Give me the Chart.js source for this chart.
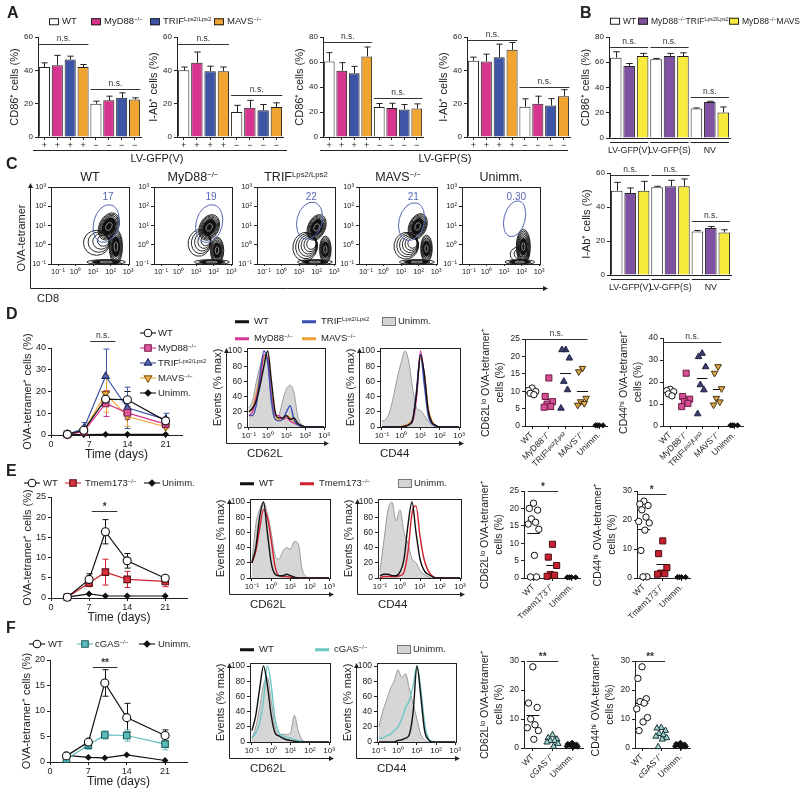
<!DOCTYPE html>
<html>
<head>
<meta charset="utf-8">
<title>Figure</title>
<script src="https://cdn.jsdelivr.net/npm/chart.js@4/dist/chart.umd.min.js"></script>
<style>
  body { margin: 0; width: 800px; height: 794px; position: relative; overflow: hidden; background: #fff;
         font-family: "Liberation Sans", Arial, sans-serif; color: #222; }
  canvas { position: absolute; left: 0; top: 0; }
  .t { position: absolute; white-space: nowrap; line-height: 1; font-size: 9.5px; transform: translateY(-50%); }
  .c { transform: translate(-50%, -50%); }
  .v { transform: translate(-50%, -50%) rotate(-90deg); }
  .L { font-weight: bold; font-size: 16px; transform: none; }
  sup { font-size: 0.62em; vertical-align: 0.55em; line-height: 0; }
  .sw { display: inline-block; width: 8px; height: 5px; border: 1px solid #222; margin-right: 3px; vertical-align: middle; }
  .gb { display: inline-block; width: 12px; height: 7px; border: 1px solid #777; background: #d4d4d4; margin-right: 2px; vertical-align: middle; }
  .ln { display: inline-block; width: 14px; height: 3px; margin-right: 5px; vertical-align: middle; }
  .rule { position: absolute; height: 0; border-top: 1px solid #222; }
</style>
</head>
<body>
<script>
const FONT = '"Liberation Sans", Arial, sans-serif';
Chart.defaults.font.family = FONT;
Chart.defaults.font.size = 8;
Chart.defaults.color = '#222';
Chart.defaults.animation = false;
Chart.defaults.events = [];
Chart.defaults.plugins.legend.display = false;
Chart.defaults.plugins.tooltip.enabled = false;

const W = 800, H = 794;
const SUP = { '-1': '⁻¹', '0': '⁰', '1': '¹', '2': '²', '3': '³' };
const pow10 = v => '10' + SUP[v];
const rng = (a, b, s) => { const r = []; for (let v = a; v <= b + 1e-9; v += s) r.push(+v.toFixed(4)); return r; };

// ---------------- A: DC activation, LV-GFP(V) / LV-GFP(S) ----------------
const lvTicks = ['+', '+', '+', '+', '−', '−', '−', '−'];
const colA = ['#ffffff', '#d6368e', '#3e55a5', '#f0a532'];
const cd86V = [42, 43, 46.5, 42, 20, 22, 23.5, 22.5];
const cd86VErr = [2.5, 6, 2, 1.5, 1.5, 2.5, 3, 1];
const iabV = [40, 44.5, 39.5, 39.5, 15, 17.5, 16, 18];
const iabVErr = [2, 6.5, 3, 2.5, 4, 4.5, 3.5, 2.5];
const cd86S = [60.5, 53, 51, 64.5, 24, 23.3, 22, 22.8];
const cd86SErr = [7, 6.5, 5.5, 7.5, 2.8, 3.7, 4, 3.7];
const iabS = [45.7, 45.3, 47.9, 52.3, 18.1, 19.9, 18.9, 24.5];
const iabSErr = [2.2, 4.4, 7.8, 4.4, 4.8, 4.6, 4.1, 3.9];

// ---------------- B: double knockouts ----------------
const bLabels = ['WT', 'DKO-TRIF', 'DKO-MAVS', 'WT', 'DKO-TRIF', 'DKO-MAVS', 'WT', 'DKO-TRIF', 'DKO-MAVS'];
const colB = ['#ffffff', '#7e52a0', '#f8ea3c'];
const bGroups = ['LV-GFP(V)', 'LV-GFP(S)', 'NV'];
const cd86B = [63.6, 57, 64.9, 62.3, 64.9, 64.9, 23.3, 28.6, 20.1];
const cd86BErr = [4.7, 2, 2.1, 0.7, 2.1, 2.6, 0.5, 0.5, 4.5];
const iabB = [49.6, 48.2, 49.6, 51.6, 52.2, 52.2, 25.6, 27.6, 25];
const iabBErr = [4.9, 3, 5.5, 0.6, 3.5, 4.3, 0.6, 0.9, 1.6];

// ---------------- C: OVA-tetramer vs CD8 contour plots ----------------
const cTitles = ['WT', 'MyD88<sup>−/−</sup>', 'TRIF<sup>Lps2/Lps2</sup>', 'MAVS<sup>−/−</sup>', 'Unimm.'];
const gatePct = ['17', '19', '22', '21', '0.30'];
// gate ellipses, log10 units: [cx, cy, rx, ry]
const gates = [[1.75, 1.1, 0.72, 1.0], [1.75, 1.1, 0.75, 1.0], [1.6, 1.25, 0.72, 0.98], [1.6, 1.2, 0.72, 1.0], [1.6, 1.35, 0.6, 0.95]];
// density blobs, log10 units: [cx, cy, rx, ry, tilt, rings, core, driftX, driftY]
const blobs = [
  [[1.2, 0.1, 0.75, 0.65, 0, 4, 0, 0.9, 0.3], [1.9, 0.95, 0.55, 0.75, 0.45, 8, 0.65, 0, 0], [2.3, -0.1, 0.38, 0.9, 0, 7, 0.6, 0, 0], [1.75, -0.9, 1.1, 0.13, 0, 3, 0.7, 0, 0]],
  [[1.2, 0.1, 0.65, 0.7, 0.2, 5, 0, 0.9, 0.3], [1.75, 0.9, 0.55, 0.7, 0.45, 8, 0.65, 0, 0], [2.2, -0.3, 0.38, 0.7, 0, 7, 0.6, 0, 0], [1.9, -0.9, 1.0, 0.13, 0, 3, 0.7, 0, 0]],
  [[1.35, -0.1, 0.7, 0.75, 0.2, 6, 0, 0.8, 0.3], [2.0, 0.9, 0.5, 0.7, 0.4, 8, 0.65, 0, 0], [2.5, -0.25, 0.33, 0.7, 0, 7, 0.6, 0, 0], [1.9, -0.9, 1.0, 0.13, 0, 3, 0.7, 0, 0]],
  [[1.3, -0.05, 0.7, 0.7, 0.2, 6, 0, 0.8, 0.3], [1.95, 0.95, 0.5, 0.7, 0.4, 8, 0.65, 0, 0], [2.45, -0.2, 0.33, 0.7, 0, 7, 0.6, 0, 0], [1.9, -0.9, 1.0, 0.13, 0, 3, 0.7, 0, 0]],
  [[1.9, -0.5, 0.55, 0.4, 0, 3, 0, 0.6, 0.3], [2.1, -0.1, 0.4, 0.9, 0, 8, 0.5, 0, 0], [1.9, -0.9, 0.85, 0.13, 0, 3, 0.7, 0, 0]]
];

// ---------------- D/E/F: time courses ----------------
const daysD = [3, 6, 10, 14, 21];
const daysEF = [3, 7, 10, 14, 21];
const dWT = [0.3, 2.2, 16.5, 16.2, 6.5],   dWTe = [0.2, 1.0, 3.0, 3.8, 1.5];
const dMy = [0.3, 1.5, 14.5, 10.2, 5.0],   dMye = [0.2, 0.6, 6.0, 3.0, 1.2];
const dTR = [0.3, 3.0, 27.0, 12.5, 7.2],   dTRe = [0.2, 2.7, 12.5, 9.5, 2.8];
const dMA = [0.2, 1.8, 19.0, 8.5, 3.8],    dMAe = [0.2, 0.8, 8.5, 4.5, 1.0];
const dUn = [0.2, 0.2, 0.3, 0.3, 0.3];
const eWT = [0.2, 4.6, 16.4, 9.2, 4.9],    eWTe = [0.2, 1.4, 3.0, 1.8, 0.6];
const eTm = [0.2, 3.7, 6.4, 4.6, 4.1],     eTme = [0.1, 0.9, 3.2, 2.0, 1.3];
const eUn = [0.2, 1.0, 0.5, 0.5, 0.5];
const fWT = [1.2, 3.9, 15.5, 8.7, 5.2],    fWTe = [0.3, 0.4, 2.6, 2.8, 1.1];
const fCg = [0.6, 3.3, 5.3, 5.2, 3.5],     fCge = [0.4, 0.8, 0.8, 1.1, 1.1];
const fUn = [1.3, 0.9, 0.8, 1.4, 0.3];

// ---------------- histograms (% max), x = log10 fluorescence ----------------
const histX = [-1, -0.8, -0.6, -0.4, -0.2, 0, 0.2, 0.4, 0.6, 0.8, 1, 1.2, 1.4, 1.6, 1.8, 2, 2.2, 2.4, 2.6, 2.8, 3];
const hD62 = {
  gray: [25, 35, 60, 80, 95, 88, 30, 10, 15, 35, 50, 55, 45, 15, 3, 0, 0, 0, 0, 0, 0],
  wt:   [20, 25, 35, 55, 80, 100, 60, 20, 12, 12, 15, 10, 12, 5, 2, 0, 0, 0, 0, 0, 0],
  my:   [15, 20, 40, 60, 95, 90, 40, 15, 15, 10, 12, 8, 5, 3, 1, 0, 0, 0, 0, 0, 0],
  tr:   [15, 15, 30, 70, 100, 85, 35, 10, 8, 10, 20, 28, 10, 3, 1, 0, 0, 0, 0, 0, 0],
  ma:   [20, 25, 45, 70, 90, 95, 45, 15, 10, 12, 15, 12, 8, 3, 1, 0, 0, 0, 0, 0, 0]
};
const hD44 = {
  gray: [8, 10, 20, 40, 65, 85, 100, 85, 50, 25, 22, 15, 8, 3, 1, 0, 0, 0, 0, 0, 0],
  wt:   [0, 0, 0, 0, 0, 0, 1, 3, 10, 45, 95, 70, 22, 6, 2, 0, 0, 0, 0, 0, 0],
  my:   [0, 0, 0, 0, 0, 0, 1, 3, 8, 40, 100, 65, 20, 5, 1, 0, 0, 0, 0, 0, 0],
  tr:   [0, 0, 0, 0, 0, 0, 1, 3, 10, 50, 95, 55, 15, 4, 1, 0, 0, 0, 0, 0, 0],
  ma:   [0, 0, 0, 0, 0, 1, 2, 5, 12, 45, 90, 70, 25, 8, 2, 0, 0, 0, 0, 0, 0]
};
const hE62 = {
  gray: [20, 70, 90, 100, 85, 60, 30, 25, 35, 40, 38, 48, 45, 12, 2, 0, 0, 0, 0, 0, 0],
  wt:   [20, 40, 80, 100, 60, 20, 5, 3, 3, 5, 3, 1, 0, 0, 0, 0, 0, 0, 0, 0, 0],
  tm:   [20, 35, 65, 90, 80, 50, 15, 3, 2, 2, 1, 0, 0, 0, 0, 0, 0, 0, 0, 0, 0]
};
const hE44 = {
  gray: [10, 50, 90, 100, 75, 90, 60, 45, 25, 20, 10, 5, 2, 0, 0, 0, 0, 0, 0, 0, 0],
  wt:   [3, 5, 5, 3, 3, 8, 25, 70, 100, 60, 25, 10, 5, 2, 0, 0, 0, 0, 0, 0, 0],
  tm:   [0, 2, 2, 2, 2, 3, 8, 35, 85, 95, 55, 25, 10, 3, 0, 0, 0, 0, 0, 0, 0]
};
const hF62 = {
  gray: [5, 20, 45, 75, 85, 55, 20, 12, 10, 10, 12, 35, 15, 3, 0, 0, 0, 0, 0, 0, 0],
  wt:   [15, 35, 70, 100, 75, 35, 12, 8, 5, 3, 2, 1, 0, 0, 0, 0, 0, 0, 0, 0, 0],
  cg:   [5, 12, 25, 55, 100, 75, 30, 12, 8, 6, 5, 3, 2, 1, 0, 0, 0, 0, 0, 0, 0]
};
const hF44 = {
  gray: [20, 40, 55, 70, 80, 95, 85, 90, 70, 50, 30, 10, 3, 0, 0, 0, 0, 0, 0, 0, 0],
  wt:   [0, 0, 0, 0, 0, 2, 3, 5, 10, 40, 100, 60, 15, 3, 0, 0, 0, 0, 0, 0, 0],
  cg:   [5, 5, 8, 10, 15, 20, 30, 45, 55, 75, 100, 70, 25, 5, 1, 0, 0, 0, 0, 0, 0]
};

// ---------------- dot plots (% of CD8+) ----------------
const dCats = ['WT', 'MyD88⁻/⁻', 'TRIFᴸᵖˢ²/ᴸᵖˢ²', 'MAVS⁻/⁻', 'Unimm.'];
const d62 = [[10.9, 10.2, 9.9, 9.4, 9.0], [13.8, 8.5, 7.0, 6.3, 5.6, 5.4], [21.9, 21.9, 19.5, 12.8, 10.4, 5.1], [16.6, 15.6, 8.0, 7.0, 6.5, 6.0], [0.2, 0.2, 0.2, 0.2]];
const d44 = [[16.7, 16.1, 15.6, 14.6, 13.7], [24.0, 13.4, 12.2, 11.1, 10.3, 8.8], [33.0, 31.5, 26.9, 18.7, 16.4, 5.5], [27.0, 24.0, 17.0, 12.6, 11.0, 9.6], [0.3, 0.3, 0.3, 0.3]];
const eCats = ['WT', 'Tmem173⁻/⁻', 'Unimm.'];
const e62 = [[21.5, 20, 19.5, 17, 16, 15.5, 14, 6.5, 0.3, 0.3], [9.7, 6, 3.6, 1, 0.8, 0.5], [0.2, 0.2, 0.2, 0.2]];
const e44 = [[26.5, 25.5, 25, 23.5, 21, 19.5, 19, 16.5, 9.5, 0.4, 0.4], [12.8, 8.4, 3.6, 1.7, 1.5, 1.3], [0.3, 0.3, 0.3, 0.3]];
const fCats = ['WT', 'cGAS⁻/⁻', 'Unimm.'];
const f62 = [[28, 15.5, 14, 10, 8, 7, 6, 3], [4.5, 3.5, 3, 2.5, 2.5, 2, 1.5, 0.5], [1.8, 1.4, 1.2, 1.0, 0.8, 0.6, 0.5, 0.3]];
const f44 = [[28, 24, 17, 16, 15.5, 13.5, 10.5, 9, 6], [7, 6.8, 6, 5, 4.5, 4, 3.5, 3, 0.4], [1.8, 1.4, 1.2, 1.0, 0.8, 0.6, 0.5, 0.3]];

// ---------------- styles ----------------
const C_MY = '#d6368e', C_TR = '#3e55a5', C_MA = '#f0a532', C_TM = '#d0202e', C_CG = '#5cbcbc';
const stWT = { ps: 'circle', fill: '#fff', pc: '#111', r: 3.2 };
const stWTl = { ps: 'circle', fill: '#fff', pc: '#111', r: 4 };
const stMy = { ps: 'rect', fill: '#d34e93', pc: '#6b1d44', r: 4.3 };
const stTR = { ps: 'triangle', fill: '#3c3f72', pc: '#1e2040', r: 3.8 };
const stMA = { ps: 'triangle', rot: 180, fill: '#d9a64a', pc: '#4a3510', r: 3.8 };
const stUn = { ps: 'rectRot', fill: '#111', pc: '#111', r: 2.6 };
const stTm = { ps: 'rect', fill: '#c8202f', pc: '#4a0c10', r: 4.3 };
const stCg = { ps: 'triangle', fill: '#9fd3cf', pc: '#1c3533', r: 3.6 };
const jit = [0, -0.22, 0.22, -0.11, 0.11, -0.28, 0.28, 0.05, -0.16, 0.16, -0.05];

// ---------------- plugins ----------------
function drawErr(chart, up) {
  const ctx = chart.ctx, ys = chart.scales.y;
  chart.data.datasets.forEach((ds, di) => {
    if (!ds.errors) return;
    const meta = chart.getDatasetMeta(di);
    ctx.save();
    ctx.strokeStyle = ds.errColor || '#222';
    ctx.lineWidth = 1;
    meta.data.forEach((el, i) => {
      const e = ds.errors[i];
      if (!e) return;
      const raw = ds.data[i];
      const v = typeof raw === 'object' ? raw.y : raw;
      const x = Math.round(el.x) + 0.5;
      const hi = ys.getPixelForValue(v + e);
      const lo = ys.getPixelForValue(up ? v : Math.max(0, v - e));
      const cap = up ? el.width * 0.28 : 3;
      ctx.beginPath();
      ctx.moveTo(x, lo); ctx.lineTo(x, hi);
      ctx.moveTo(x - cap, hi); ctx.lineTo(x + cap, hi);
      if (!up) { ctx.moveTo(x - cap, lo); ctx.lineTo(x + cap, lo); }
      ctx.stroke();
    });
    ctx.restore();
  });
}
const errbars = {
  id: 'errbars',
  beforeDatasetsDraw(chart, a, opt) { if (!opt.up) drawErr(chart, false); },
  afterDatasetsDraw(chart, a, opt) { if (opt.up) drawErr(chart, true); }
};

const sig = {
  id: 'sig',
  afterDraw(chart, a, opt) {
    if (!opt.items) return;
    const ctx = chart.ctx, xs = chart.scales.x, ys = chart.scales.y;
    ctx.save();
    opt.items.forEach(s => {
      const x0 = xs.getPixelForValue(s.x0), x1 = xs.getPixelForValue(s.x1), y = Math.round(ys.getPixelForValue(s.y)) + 0.5;
      ctx.strokeStyle = '#333'; ctx.lineWidth = 1;
      ctx.beginPath(); ctx.moveTo(x0, y); ctx.lineTo(x1, y); ctx.stroke();
      ctx.fillStyle = '#333';
      ctx.font = (s.t === 'n.s.' ? '8.5px ' : 'bold 10px ') + FONT;
      ctx.textAlign = 'center'; ctx.textBaseline = 'bottom';
      ctx.fillText(s.t, (x0 + x1) / 2, s.t === 'n.s.' ? y - 2 : y + 1);
    });
    ctx.restore();
  }
};

const groups = {
  id: 'groups',
  afterDraw(chart, a, opt) {
    if (!opt.items) return;
    const ctx = chart.ctx, xs = chart.scales.x, y = Math.round(chart.chartArea.bottom) + 4.5;
    ctx.save();
    opt.items.forEach(g => {
      const x0 = xs.getPixelForValue(g.from - 0.42), x1 = xs.getPixelForValue(g.to + 0.42);
      ctx.strokeStyle = '#222'; ctx.lineWidth = 1;
      ctx.beginPath(); ctx.moveTo(x0, y); ctx.lineTo(x1, y); ctx.stroke();
      ctx.fillStyle = '#222'; ctx.font = '8.8px ' + FONT; ctx.textAlign = 'center'; ctx.textBaseline = 'middle';
      ctx.fillText(g.t, (x0 + x1) / 2, y + 8);
    });
    ctx.restore();
  }
};

const frame = {
  id: 'frame',
  afterDraw(chart, a, opt) {
    if (!opt.on) return;
    const ca = chart.chartArea, ctx = chart.ctx;
    ctx.save(); ctx.strokeStyle = '#222'; ctx.lineWidth = 1;
    ctx.strokeRect(Math.round(ca.left) + 0.5, Math.round(ca.top) + 0.5, Math.round(ca.right - ca.left), Math.round(ca.bottom - ca.top));
    ctx.restore();
  }
};

const arrows = {
  id: 'arrows',
  afterDraw(chart, a, opt) {
    let box = opt.abs;
    const ca = chart.chartArea;
    if (!box && opt.rel) box = [ca.left + opt.rel[0], ca.bottom + opt.rel[1], ca.right + opt.rel[2], ca.top];
    if (!box) return;
    const x0 = Math.round(box[0]) + 0.5, y0 = Math.round(box[1]) + 0.5, x1 = box[2], y1 = box[3], ctx = chart.ctx;
    ctx.save(); ctx.strokeStyle = '#222'; ctx.fillStyle = '#222'; ctx.lineWidth = 1;
    ctx.beginPath(); ctx.moveTo(x0, y1 + 4); ctx.lineTo(x0, y0); ctx.lineTo(x1 - 4, y0); ctx.stroke();
    ctx.beginPath(); ctx.moveTo(x0, y1); ctx.lineTo(x0 - 2.5, y1 + 5); ctx.lineTo(x0 + 2.5, y1 + 5); ctx.fill();
    ctx.beginPath(); ctx.moveTo(x1, y0); ctx.lineTo(x1 - 5, y0 - 2.5); ctx.lineTo(x1 - 5, y0 + 2.5); ctx.fill();
    ctx.restore();
  }
};

const contour = {
  id: 'contour',
  afterDatasetsDraw(chart, a, opt) {
    if (!opt.blobs) return;
    const ctx = chart.ctx, xs = chart.scales.x, ys = chart.scales.y, ca = chart.chartArea;
    ctx.save();
    ctx.beginPath(); ctx.rect(ca.left, ca.top, ca.right - ca.left, ca.bottom - ca.top); ctx.clip();
    opt.blobs.forEach(b => {
      const [cx, cy, rx, ry, rot, n, core, dx, dy] = b;
      const px = xs.getPixelForValue(cx), py = ys.getPixelForValue(cy);
      const rxp = xs.getPixelForValue(cx + rx) - px, ryp = py - ys.getPixelForValue(cy + ry);
      ctx.strokeStyle = '#111'; ctx.lineWidth = 0.9;
      for (let k = 0; k < n; k++) {
        const f = 1 - (k / n) * 0.75;
        const ox = (1 - f) * rxp * dx, oy = -(1 - f) * ryp * dy;
        ctx.beginPath(); ctx.ellipse(px + ox, py + oy, rxp * f, ryp * f, rot, 0, Math.PI * 2); ctx.stroke();
      }
      if (core) {
        ctx.fillStyle = '#111';
        ctx.beginPath(); ctx.ellipse(px, py, rxp * core, ryp * core, rot, 0, Math.PI * 2); ctx.fill();
        ctx.strokeStyle = '#fff'; ctx.lineWidth = 0.5;
        ctx.beginPath(); ctx.ellipse(px, py, rxp * core * 0.45, ryp * core * 0.45, rot, 0, Math.PI * 2); ctx.stroke();
      }
    });
    const g = opt.gate;
    const gx = xs.getPixelForValue(g[0]), gy = ys.getPixelForValue(g[1]);
    ctx.strokeStyle = '#5567b0'; ctx.lineWidth = 1;
    ctx.beginPath();
    ctx.ellipse(gx, gy, xs.getPixelForValue(g[0] + g[2]) - gx, gy - ys.getPixelForValue(g[1] + g[3]), 0.25, 0, Math.PI * 2);
    ctx.stroke();
    ctx.fillStyle = '#5567b0'; ctx.font = '10px ' + FONT; ctx.textAlign = 'center'; ctx.textBaseline = 'middle';
    ctx.fillText(opt.pct, xs.getPixelForValue(g[0] + 0.1), ys.getPixelForValue(2.45));
    ctx.restore();
  }
};

const meanbar = {
  id: 'meanbar',
  beforeDatasetsDraw(chart) {
    const ctx = chart.ctx, xs = chart.scales.x, ys = chart.scales.y;
    chart.data.datasets.forEach(ds => {
      if (!ds.mean) return;
      const vals = ds.data.map(p => p.y);
      const m = vals.reduce((s, v) => s + v, 0) / vals.length;
      const y = Math.round(ys.getPixelForValue(m)) + 0.5;
      ctx.save(); ctx.strokeStyle = '#111'; ctx.lineWidth = 1;
      ctx.beginPath(); ctx.moveTo(xs.getPixelForValue(ds.cat - 0.33), y); ctx.lineTo(xs.getPixelForValue(ds.cat + 0.33), y); ctx.stroke();
      ctx.restore();
    });
  }
};

const marks = {
  id: 'marks',
  afterDraw(chart, a, opt) {
    if (!opt.items) return;
    const ctx = chart.ctx;
    opt.items.forEach(m => {
      ctx.save();
      ctx.lineWidth = 1.1;
      ctx.strokeStyle = m.lc;
      ctx.beginPath(); ctx.moveTo(m.x - 8, m.y); ctx.lineTo(m.x + 8, m.y); ctx.stroke();
      ctx.fillStyle = m.fill; ctx.strokeStyle = m.pc;
      const hp = Chart.helpers;
      if (hp && hp.drawPoint) {
        hp.drawPoint(ctx, { pointStyle: m.ps, radius: m.r, rotation: m.rot || 0, borderWidth: 1.1 }, m.x, m.y);
      } else {
        ctx.beginPath(); ctx.arc(m.x, m.y, m.r, 0, Math.PI * 2); ctx.fill(); ctx.stroke();
      }
      ctx.restore();
    });
  }
};

Chart.register(errbars, sig, groups, frame, arrows, contour, meanbar, marks);

// ---------------- chart helpers ----------------
function place(rect, yW, xH) {
  const c = document.createElement('canvas');
  c.width = W; c.height = H;
  document.body.appendChild(c);
  return { el: c, padding: { left: rect[0] - yW, top: rect[1], right: W - rect[2], bottom: H - rect[3] - xH } };
}

function yAxis(min, max, ticks, w, title, o = {}) {
  return {
    type: 'linear', min, max,
    afterBuildTicks: s => { s.ticks = ticks.map(v => ({ value: v })); },
    ticks: { padding: 2, font: { size: o.fs || 8 }, callback: o.cb || (v => v) },
    grid: { drawOnChartArea: false, tickLength: 3, color: '#222' },
    border: { color: '#222' },
    title: title ? { display: true, text: title, padding: 0, font: { size: o.tfs || 10.5, lineHeight: 1.25 } } : { display: false },
    afterFit: s => { s.width = w; }
  };
}

function xLinear(min, max, ticks, h, o = {}) {
  return {
    type: 'linear', min, max,
    afterBuildTicks: s => { s.ticks = ticks.map(v => ({ value: v })); },
    ticks: { padding: o.pad || 1, font: { size: o.fs || 8 }, callback: o.cb || (v => v), autoSkip: false,
             minRotation: o.rot || 0, maxRotation: o.rot || 0 },
    grid: { drawOnChartArea: false, tickLength: o.tl === undefined ? 3 : o.tl, color: '#222' },
    border: { color: '#222' },
    title: o.title ? { display: true, text: o.title, padding: 0, align: o.align || 'center', font: { size: o.tfs || 11 } } : { display: false },
    afterFit: s => { s.height = h; }
  };
}

function barChart(rect, labels, vals, errs, colors, yMax, title, sigItems, groupItems) {
  const xH = groupItems ? 20 : 14;
  const p = place(rect, 30, xH);
  new Chart(p.el, {
    type: 'bar',
    data: { labels, datasets: [{ data: vals, errors: errs, backgroundColor: colors, borderColor: '#222', borderWidth: 1,
      barPercentage: 0.86, categoryPercentage: 1 }] },
    options: {
      responsive: false, layout: { padding: p.padding },
      scales: {
        x: {
          grid: { offset: false, drawOnChartArea: false, drawTicks: !groupItems, tickLength: 3, color: '#222' },
          border: { color: '#222' },
          ticks: { display: !groupItems, font: { size: 9 }, padding: 0, maxRotation: 0, autoSkip: false },
          afterFit: s => { s.height = xH; }
        },
        y: yAxis(0, yMax, rng(0, yMax, 20), 30, title, { tfs: 11 })
      },
      plugins: { errbars: { up: true }, sig: { items: sigItems }, groups: groupItems ? { items: groupItems } : {} }
    }
  });
}

function contourChart(rect, i) {
  const p = place(rect, 19, 12);
  const plugins = { frame: { on: true }, contour: { blobs: blobs[i], gate: gates[i], pct: gatePct[i] } };
  if (i === 0) plugins.arrows = { abs: [30, 288, 548, 183] };
  new Chart(p.el, {
    type: 'scatter',
    data: { datasets: [] },
    options: {
      responsive: false, layout: { padding: p.padding },
      scales: {
        x: xLinear(-1.4, 3.05, [-1, 0, 1, 2, 3], 12, { cb: pow10, fs: 7.5, tl: 2 }),
        y: yAxis(-1, 3, [-1, 0, 1, 2, 3], 19, null, { cb: pow10, fs: 7.5 })
      },
      plugins
    }
  });
}

function timeChart(rect, xMax, yMax, yStep, days, series, sigItems, markItems) {
  const p = place(rect, 30, 27);
  new Chart(p.el, {
    type: 'line',
    data: { datasets: series.map(s => ({
      data: s.v.map((y, i) => ({ x: days[i], y })),
      errors: s.e, errColor: s.c, clip: false,
      borderColor: s.c, borderWidth: 1.2, tension: 0,
      pointStyle: s.st.ps, pointRadius: s.st.r, pointRotation: s.st.rot || 0,
      pointBackgroundColor: s.st.fill, pointBorderColor: s.st.pc, pointBorderWidth: 1.1
    })) },
    options: {
      responsive: false, layout: { padding: p.padding },
      scales: {
        x: xLinear(0, xMax, [0, 7, 14, 21], 27, { fs: 9, title: 'Time (days)', tfs: 12 }),
        y: yAxis(0, yMax, rng(0, yMax, yStep), 30, 'OVA-tetramer⁺ cells (%)', { fs: 9, tfs: 11 })
      },
      plugins: { errbars: {}, sig: { items: sigItems }, marks: { items: markItems } }
    }
  });
}

function histChart(rect, series, xTitle) {
  const p = place(rect, 36, 34);
  new Chart(p.el, {
    type: 'line',
    data: { datasets: series.map(s => ({
      data: s.d.map((y, i) => ({ x: histX[i], y })),
      borderColor: s.c, borderWidth: s.fill ? 1 : 1.4,
      backgroundColor: s.fill || 'transparent', fill: s.fill ? 'origin' : false,
      pointRadius: 0, cubicInterpolationMode: 'monotone'
    })) },
    options: {
      responsive: false, layout: { padding: p.padding },
      scales: {
        x: xLinear(-1.1, 3.05, [-1, 0, 1, 2, 3], 34, { cb: pow10, fs: 8, title: xTitle, align: 'start', tfs: 11.5 }),
        y: yAxis(0, 104, [0, 20, 40, 60, 80, 100], 36, 'Events (% max)', { fs: 8.5, tfs: 11 })
      },
      plugins: { frame: { on: true }, arrows: { rel: [-21, 16, 4] } }
    }
  });
}

function dotChart(rect, xr, cats, vals, styles, yMax, yStep, title, sigItem) {
  const p = place(rect, 45, 40);
  new Chart(p.el, {
    type: 'scatter',
    data: { datasets: vals.map((v, gi) => ({
      data: v.map((y, i) => ({ x: gi + jit[i % jit.length], y })),
      cat: gi, mean: true, clip: false,
      pointStyle: styles[gi].ps, pointRadius: styles[gi].r, pointRotation: styles[gi].rot || 0,
      pointBackgroundColor: styles[gi].fill, pointBorderColor: styles[gi].pc, pointBorderWidth: 1
    })) },
    options: {
      responsive: false, layout: { padding: p.padding },
      scales: {
        x: xLinear(xr[0], xr[1], cats.map((c, i) => i), 40, { cb: v => cats[v], fs: 8.5, rot: 45, pad: 1 }),
        y: yAxis(0, yMax, rng(0, yMax, yStep), 45, title, { fs: 8.5, tfs: 10.5 })
      },
      plugins: { sig: { items: [sigItem] } }
    }
  });
}

// ---------------- A ----------------
const colA8 = colA.concat(colA);
const nsA = (y1, y2) => [{ x0: -0.45, x1: 3.42, y: y1, t: 'n.s.' }, { x0: 3.58, x1: 7.45, y: y2, t: 'n.s.' }];
barChart([38, 37, 141, 137], lvTicks, cd86V, cd86VErr, colA8, 60, 'CD86⁺ cells (%)', nsA(55.5, 28.8));
barChart([177, 37, 283, 137], lvTicks, iabV, iabVErr, colA8, 60, 'I-Ab⁺ cells (%)', nsA(56, 25));
barChart([323, 37, 423, 137], lvTicks, cd86S, cd86SErr, colA8, 80, 'CD86⁺ cells (%)', nsA(76, 31));
barChart([467, 37, 570, 137], lvTicks, iabS, iabSErr, colA8, 60, 'I-Ab⁺ cells (%)', nsA(58.5, 30));

// ---------------- B ----------------
const colB9 = colB.concat(colB, colB);
const grpB = bGroups.map((t, i) => ({ from: i * 3, to: i * 3 + 2, t }));
const nsB = (y1, y2, y3) => [{ x0: -0.42, x1: 2.42, y: y1, t: 'n.s.' }, { x0: 2.58, x1: 5.42, y: y2, t: 'n.s.' }, { x0: 5.58, x1: 8.42, y: y3, t: 'n.s.' }];
barChart([609, 37, 730, 138], bLabels, cd86B, cd86BErr, colB9, 80, 'CD86⁺ cells (%)', nsB(72, 72, 32.5), grpB);
barChart([610, 173, 731, 275], bLabels, iabB, iabBErr, colB9, 60, 'I-Ab⁺ cells (%)', nsB(59, 59, 31.5), grpB);

// ---------------- C ----------------
const cLeft = [51, 154, 257, 359, 462];
cLeft.forEach((l, i) => contourChart([l, 187, l + 78, 264], i));

// ---------------- D ----------------
timeChart([51, 348, 182, 435], 24, 40, 10, daysD, [
  { v: dWT, e: dWTe, c: '#111', st: stWTl },
  { v: dMy, e: dMye, c: C_MY, st: { ps: 'rect', fill: '#e0559f', pc: '#7a1f4e', r: 4.6 } },
  { v: dTR, e: dTRe, c: C_TR, st: { ps: 'triangle', fill: '#5a6ab8', pc: '#1f2a66', r: 4.2 } },
  { v: dMA, e: dMAe, c: C_MA, st: { ps: 'triangle', rot: 180, fill: '#f5b851', pc: '#8a5a10', r: 4.2 } },
  { v: dUn, e: null, c: '#111', st: stUn }
], [{ x0: 7.2, x1: 11.8, y: 43, t: 'n.s.' }], [
  { x: 148, y: 333, lc: '#111', ps: 'circle', fill: '#fff', pc: '#111', r: 3.8 },
  { x: 148, y: 348, lc: C_MY, ps: 'rect', fill: '#e0559f', pc: '#7a1f4e', r: 4.6 },
  { x: 148, y: 363, lc: C_TR, ps: 'triangle', fill: '#5a6ab8', pc: '#1f2a66', r: 4.2 },
  { x: 148, y: 378, lc: C_MA, ps: 'triangle', rot: 180, fill: '#f5b851', pc: '#8a5a10', r: 4.2 },
  { x: 148, y: 393, lc: '#111', ps: 'rectRot', fill: '#111', pc: '#111', r: 3 }
]);
const GRAY = '#d6d6d6', GRAYL = '#9a9a9a';
histChart([247, 348, 325, 427], [
  { d: hD62.wt, c: '#111' }, { d: hD62.tr, c: '#3a4fb5' }, { d: hD62.my, c: '#d6389a' }, { d: hD62.ma, c: '#f0a030' },
  { d: hD62.gray, c: GRAYL, fill: GRAY }
], 'CD62L');
histChart([380, 348, 460, 427], [
  { d: hD44.wt, c: '#111' }, { d: hD44.tr, c: '#3a4fb5' }, { d: hD44.my, c: '#d6389a' }, { d: hD44.ma, c: '#f0a030' },
  { d: hD44.gray, c: GRAYL, fill: GRAY }
], 'CD44');
dotChart([525, 339, 607, 426], [-0.42, 4.46], dCats, d62, [stWT, stMy, stTR, stMA, stUn], 25, 5,
  ['CD62Lˡᵒ OVA-tetramer⁺', 'cells (%)'], { x0: -0.42, x1: 3.3, y: 25, t: 'n.s.' });
dotChart([663, 338, 743, 426], [-0.45, 4.56], dCats, d44, [stWT, stMy, stTR, stMA, stUn], 40, 10,
  ['CD44ʰⁱ OVA-tetramer⁺', 'cells (%)'], { x0: -0.45, x1: 3.2, y: 38, t: 'n.s.' });

// ---------------- E ----------------
timeChart([51, 497, 187, 598], 25, 25, 5, daysEF, [
  { v: eWT, e: eWTe, c: '#111', st: stWTl },
  { v: eTm, e: eTme, c: C_TM, st: { ps: 'rect', fill: '#d8323f', pc: '#5a0e14', r: 4.6 } },
  { v: eUn, e: null, c: '#111', st: stUn }
], [{ x0: 7.5, x1: 12.2, y: 21.5, t: '*' }], [
  { x: 32, y: 483, lc: '#111', ps: 'circle', fill: '#fff', pc: '#111', r: 3.8 },
  { x: 73, y: 483, lc: C_TM, ps: 'rect', fill: '#d8323f', pc: '#5a0e14', r: 4.6 },
  { x: 152, y: 483, lc: '#111', ps: 'rectRot', fill: '#111', pc: '#111', r: 3 }
]);
histChart([250, 499, 330, 578], [
  { d: hE62.wt, c: '#111' }, { d: hE62.tm, c: C_TM },
  { d: hE62.gray, c: GRAYL, fill: GRAY }
], 'CD62L');
histChart([378, 499, 461, 578], [
  { d: hE44.wt, c: '#111' }, { d: hE44.tm, c: C_TM },
  { d: hE44.gray, c: GRAYL, fill: GRAY }
], 'CD44');
dotChart([524, 491, 580, 578], [-0.5, 2.45], eCats, e62, [stWT, stTm, stUn], 25, 5,
  ['CD62Lˡᵒ OVA-tetramer⁺', 'cells (%)'], { x0: -0.3, x1: 1.3, y: 25, t: '*' });
dotChart([637, 491, 690, 578], [-0.37, 2.45], eCats, e44, [stWT, stTm, stUn], 30, 10,
  ['CD44ʰⁱ OVA-tetramer⁺', 'cells (%)'], { x0: -0.37, x1: 1.2, y: 29, t: '*' });

// ---------------- F ----------------
timeChart([50, 660, 187, 762], 25, 20, 5, daysEF, [
  { v: fWT, e: fWTe, c: '#111', st: stWTl },
  { v: fCg, e: fCge, c: C_CG, st: { ps: 'rect', fill: '#5cbcbc', pc: '#1f5e5e', r: 4.6 } },
  { v: fUn, e: null, c: '#111', st: stUn }
], [{ x0: 7.8, x1: 12.3, y: 18.6, t: '**' }], [
  { x: 37, y: 644, lc: '#111', ps: 'circle', fill: '#fff', pc: '#111', r: 3.8 },
  { x: 85, y: 644, lc: C_CG, ps: 'rect', fill: '#5cbcbc', pc: '#1f5e5e', r: 4.6 },
  { x: 147, y: 644, lc: '#111', ps: 'rectRot', fill: '#111', pc: '#111', r: 3 }
]);
histChart([250, 663, 330, 742], [
  { d: hF62.wt, c: '#111' }, { d: hF62.cg, c: '#6cc7c7' },
  { d: hF62.gray, c: GRAYL, fill: GRAY }
], 'CD62L');
histChart([377, 663, 456, 742], [
  { d: hF44.wt, c: '#111' }, { d: hF44.cg, c: '#6cc7c7' },
  { d: hF44.gray, c: GRAYL, fill: GRAY }
], 'CD44');
dotChart([524, 661, 583, 748], [-0.45, 2.55], fCats, f62, [stWT, stCg, stUn], 30, 10,
  ['CD62Lˡᵒ OVA-tetramer⁺', 'cells (%)'], { x0: -0.3, x1: 1.3, y: 30, t: '**' });
dotChart([635, 661, 690, 748], [-0.37, 2.5], fCats, f44, [stWT, stCg, stUn], 30, 10,
  ['CD44ʰⁱ OVA-tetramer⁺', 'cells (%)'], { x0: -0.37, x1: 1.2, y: 30, t: '**' });

// ---------------- text ----------------
function txt(x, y, html, cls, style) {
  const d = document.createElement('div');
  d.className = 't' + (cls ? ' ' + cls : '');
  d.style.left = x + 'px'; d.style.top = y + 'px';
  if (style) d.style.cssText += style;
  d.innerHTML = html;
  document.body.appendChild(d);
}
function rule(x, y, w) {
  const d = document.createElement('div');
  d.className = 'rule';
  d.style.left = x + 'px'; d.style.top = y + 'px'; d.style.width = w + 'px';
  document.body.appendChild(d);
}
const sw = c => '<span class="sw" style="background:' + c + '"></span>';
const ln = c => '<span class="ln" style="background:' + c + '"></span>';
const gb = '<span class="gb"></span>';

txt(7, 5, 'A', 'L'); txt(580, 5, 'B', 'L'); txt(6, 156, 'C', 'L');
txt(6, 306, 'D', 'L'); txt(6, 463, 'E', 'L'); txt(6, 620, 'F', 'L');

txt(49, 21, sw('#fff') + 'WT');
txt(91, 21, sw(colA[1]) + 'MyD88<sup>−/−</sup>');
txt(150, 21, sw(colA[2]) + 'TRIF<sup>Lps2/Lps2</sup>');
txt(214, 21, sw(colA[3]) + 'MAVS<sup>−/−</sup>');
const bl = 'font-size:8.5px';
txt(610, 21, sw('#fff') + 'WT', '', bl);
txt(638, 21, sw(colB[1]) + 'MyD88<sup>−/−</sup>TRIF<sup>Lps2/Lps2</sup>', '', bl);
txt(729, 21, sw(colB[2]) + 'MyD88<sup>−/−</sup>MAVS<sup>−/−</sup>', '', bl);

rule(33, 150, 254); txt(157, 158, 'LV-GFP(V)', 'c', 'font-size:11px');
rule(320, 150, 248); txt(445, 158, 'LV-GFP(S)', 'c', 'font-size:11px');

cLeft.forEach((l, i) => txt(l + 39, 177, cTitles[i], 'c', 'font-size:12.5px'));
txt(21, 238, 'OVA-tetramer', 'v', 'font-size:11px');
txt(37, 298, 'CD8', '', 'font-size:11px');

['WT', 'MyD88<sup>−/−</sup>', 'TRIF<sup>Lps2/Lps2</sup>', 'MAVS<sup>−/−</sup>', 'Unimm.']
  .forEach((s, i) => txt(158, 333 + i * 15, s));
txt(235, 321, ln('#111') + 'WT');
txt(302, 321, ln('#3a4fb5') + 'TRIF<sup>Lps2/Lps2</sup>');
txt(382, 321, gb + 'Unimm.');
txt(235, 338, ln('#d6389a') + 'MyD88<sup>−/−</sup>');
txt(302, 338, ln('#f0a030') + 'MAVS<sup>−/−</sup>');

txt(43, 483, 'WT'); txt(85, 483, 'Tmem173<sup>−/−</sup>'); txt(162, 483, 'Unimm.');
txt(240, 483, ln('#111') + 'WT');
txt(300, 483, ln(C_TM) + 'Tmem173<sup>−/−</sup>');
txt(398, 483, gb + 'Unimm.');

txt(48, 644, 'WT'); txt(95, 644, 'cGAS<sup>−/−</sup>'); txt(158, 644, 'Unimm.');
txt(240, 649, ln('#111') + 'WT');
txt(315, 649, ln('#6cc7c7') + 'cGAS<sup>−/−</sup>');
txt(397, 649, gb + 'Unimm.');
</script>
</body>
</html>
